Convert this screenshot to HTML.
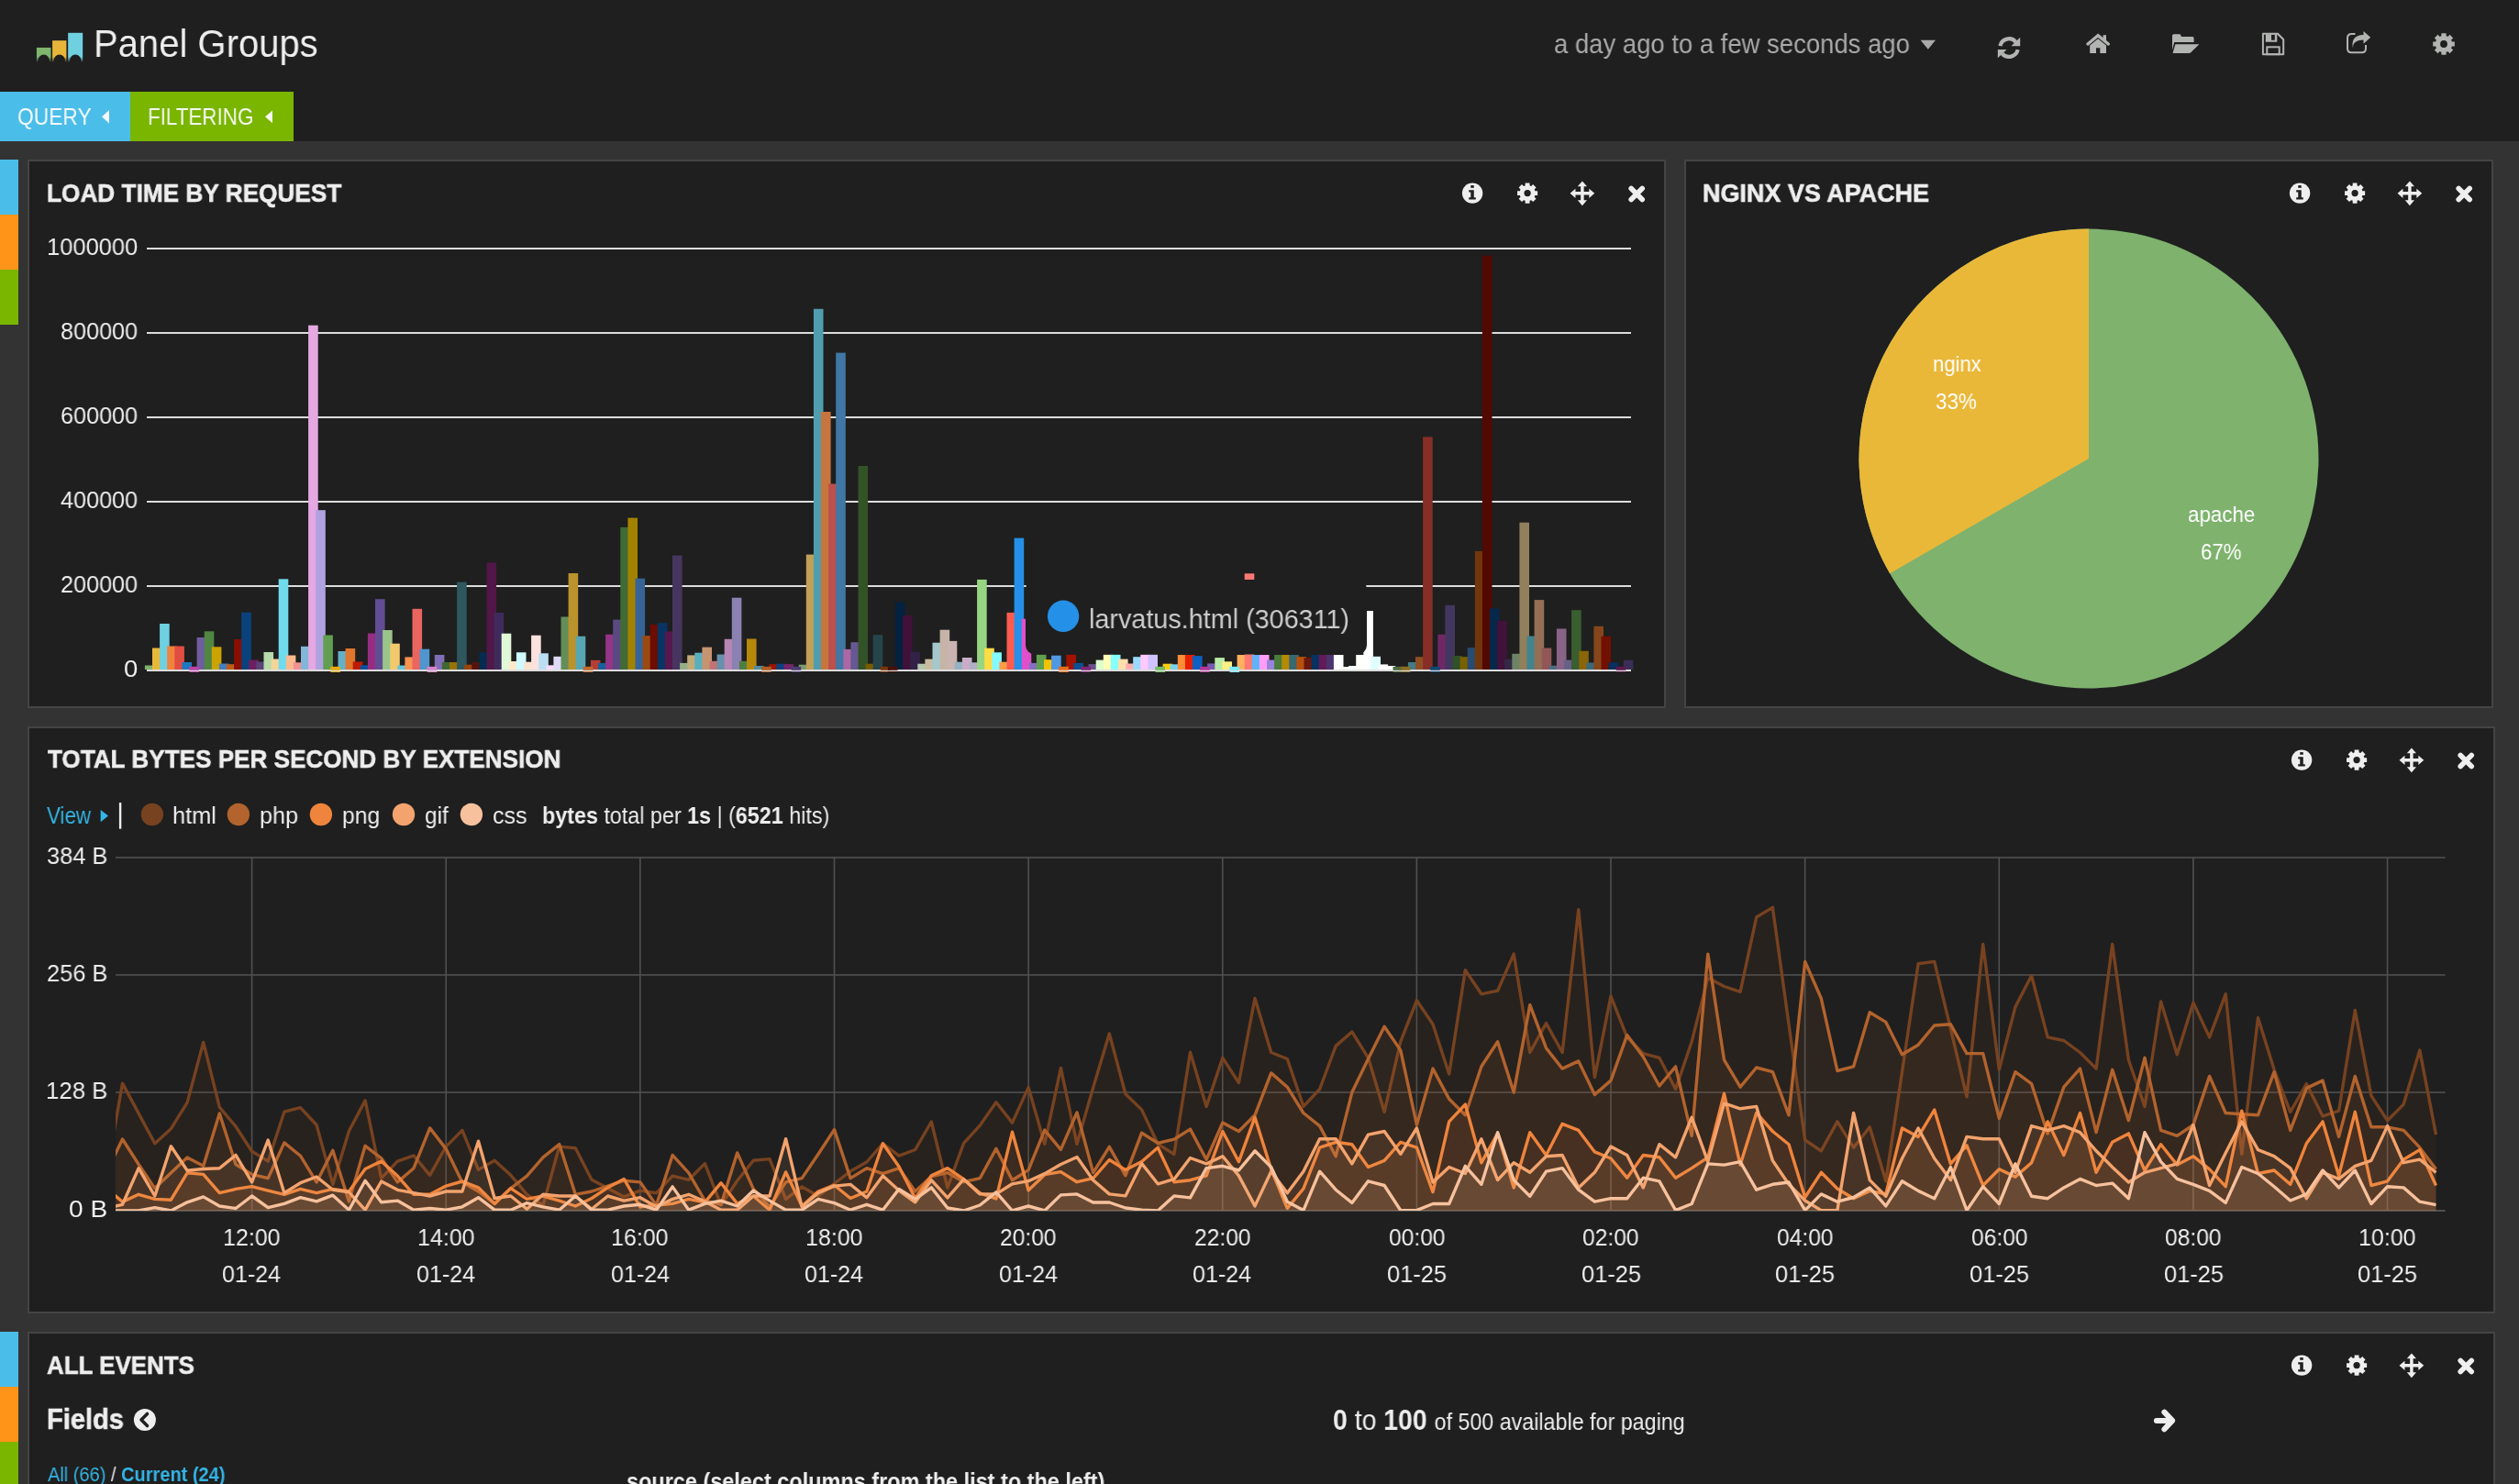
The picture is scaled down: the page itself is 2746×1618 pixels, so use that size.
<!DOCTYPE html>
<html><head><meta charset="utf-8"><title>Panel Groups</title>
<style>
html,body{margin:0;padding:0;width:2746px;height:1618px;overflow:hidden;background:#333}
body{position:relative;font-family:"Liberation Sans",sans-serif}
div{white-space:nowrap;line-height:1;transform-origin:0 0}
.t{will-change:transform}
svg{position:absolute;left:0;top:0}
</style></head><body>
<div style="position:absolute;left:0px;top:0px;width:2746px;height:154px;background:#1f1f1f;"></div>
<div style="position:absolute;left:0px;top:154px;width:2746px;height:1464px;background:#333333;"></div>
<div style="position:absolute;left:0px;top:100px;width:142px;height:54px;background:#4bbde9;"></div>
<div style="position:absolute;left:142px;top:100px;width:178px;height:54px;background:#7ab500;"></div>
<div style="position:absolute;left:0px;top:174px;width:20px;height:60px;background:#4bbde9;"></div>
<div style="position:absolute;left:0px;top:234px;width:20px;height:60px;background:#ff9419;"></div>
<div style="position:absolute;left:0px;top:294px;width:20px;height:60px;background:#7ab500;"></div>
<div style="position:absolute;left:0px;top:1452px;width:20px;height:60px;background:#4bbde9;"></div>
<div style="position:absolute;left:0px;top:1512px;width:20px;height:60px;background:#ff9419;"></div>
<div style="position:absolute;left:0px;top:1572px;width:20px;height:60px;background:#7ab500;"></div>
<div style="position:absolute;left:30px;top:174px;width:1786px;height:598px;background:#1f1f1f;border:2px solid #444444;box-sizing:border-box"></div>
<div style="position:absolute;left:1836px;top:174px;width:882px;height:598px;background:#1f1f1f;border:2px solid #444444;box-sizing:border-box"></div>
<div style="position:absolute;left:30px;top:792px;width:2690px;height:640px;background:#1f1f1f;border:2px solid #444444;box-sizing:border-box"></div>
<div style="position:absolute;left:30px;top:1452px;width:2690px;height:248px;background:#1f1f1f;border:2px solid #444444;box-sizing:border-box"></div>
<svg width="2746" height="1618" viewBox="0 0 2746 1618">
<rect x="160" y="270" width="1618" height="2" fill="#dddddd"/>
<rect x="160" y="362" width="1618" height="2" fill="#dddddd"/>
<rect x="160" y="454" width="1618" height="2" fill="#dddddd"/>
<rect x="160" y="546" width="1618" height="2" fill="#dddddd"/>
<rect x="160" y="638" width="1618" height="2" fill="#dddddd"/>
<rect x="157.90" y="725.50" width="10.60" height="4.50" fill="#7eb26d"/>
<rect x="166.00" y="706.50" width="10.60" height="23.50" fill="#eab839"/>
<rect x="174.10" y="680.00" width="10.60" height="50.00" fill="#6ed0e0"/>
<rect x="182.20" y="704.50" width="10.60" height="25.50" fill="#ef843c"/>
<rect x="190.30" y="704.50" width="10.60" height="25.50" fill="#e24d42"/>
<rect x="198.40" y="722.00" width="10.60" height="8.00" fill="#1f78c1"/>
<rect x="206.50" y="727" width="10.60" height="6" fill="#ba43a9"/>
<rect x="214.60" y="695.00" width="10.60" height="35.00" fill="#705da0"/>
<rect x="222.70" y="688.30" width="10.60" height="41.70" fill="#508642"/>
<rect x="230.80" y="705.30" width="10.60" height="24.70" fill="#cca300"/>
<rect x="238.90" y="723.50" width="10.60" height="6.50" fill="#447ebc"/>
<rect x="247.00" y="724.20" width="10.60" height="5.80" fill="#c15c17"/>
<rect x="255.10" y="697.00" width="10.60" height="33.00" fill="#890f02"/>
<rect x="263.20" y="667.70" width="10.60" height="62.30" fill="#0a437c"/>
<rect x="271.30" y="719.50" width="10.60" height="10.50" fill="#6d1f62"/>
<rect x="279.40" y="721.50" width="10.60" height="8.50" fill="#584477"/>
<rect x="287.50" y="711.00" width="10.60" height="19.00" fill="#b7dbab"/>
<rect x="295.60" y="718.50" width="10.60" height="11.50" fill="#f4d598"/>
<rect x="303.70" y="631.30" width="10.60" height="98.70" fill="#70dbed"/>
<rect x="311.80" y="714.50" width="10.60" height="15.50" fill="#f9ba8f"/>
<rect x="319.90" y="722.30" width="10.60" height="7.70" fill="#f29191"/>
<rect x="328.00" y="704.80" width="10.60" height="25.20" fill="#82b5d8"/>
<rect x="336.10" y="354.70" width="10.60" height="375.30" fill="#e5a8e2"/>
<rect x="344.20" y="556.20" width="10.60" height="173.80" fill="#aea2e0"/>
<rect x="352.30" y="692.50" width="10.60" height="37.50" fill="#629e51"/>
<rect x="360.40" y="727" width="10.60" height="6" fill="#e5ac0e"/>
<rect x="368.50" y="710.00" width="10.60" height="20.00" fill="#64b0c8"/>
<rect x="376.60" y="707.00" width="10.60" height="23.00" fill="#e0752d"/>
<rect x="384.70" y="721.50" width="10.60" height="8.50" fill="#bf1b00"/>
<rect x="392.80" y="725.30" width="10.60" height="4.70" fill="#0a50a1"/>
<rect x="400.90" y="690.50" width="10.60" height="39.50" fill="#962d82"/>
<rect x="409.00" y="653.20" width="10.60" height="76.80" fill="#614d93"/>
<rect x="417.10" y="687.00" width="10.60" height="43.00" fill="#9ac48a"/>
<rect x="425.20" y="701.70" width="10.60" height="28.30" fill="#f2c96d"/>
<rect x="433.30" y="725.50" width="10.60" height="4.50" fill="#65c5db"/>
<rect x="441.40" y="716.40" width="10.60" height="13.60" fill="#f9934e"/>
<rect x="449.50" y="663.80" width="10.60" height="66.20" fill="#ea6460"/>
<rect x="457.60" y="707.70" width="10.60" height="22.30" fill="#5195ce"/>
<rect x="465.70" y="727" width="10.60" height="6" fill="#d683ce"/>
<rect x="473.80" y="714.00" width="10.60" height="16.00" fill="#806eb7"/>
<rect x="481.90" y="722.00" width="10.60" height="8.00" fill="#3f6833"/>
<rect x="490.00" y="722.00" width="10.60" height="8.00" fill="#967302"/>
<rect x="498.10" y="634.60" width="10.60" height="95.40" fill="#2f575e"/>
<rect x="506.20" y="724.70" width="10.60" height="5.30" fill="#99440a"/>
<rect x="514.30" y="722.00" width="10.60" height="8.00" fill="#58140c"/>
<rect x="522.40" y="711.30" width="10.60" height="18.70" fill="#052b51"/>
<rect x="530.50" y="613.40" width="10.60" height="116.60" fill="#511749"/>
<rect x="538.60" y="668.00" width="10.60" height="62.00" fill="#3f2b5b"/>
<rect x="546.70" y="690.70" width="10.60" height="39.30" fill="#e0f9d7"/>
<rect x="554.80" y="721.00" width="10.60" height="9.00" fill="#fceaca"/>
<rect x="562.90" y="711.30" width="10.60" height="18.70" fill="#cffaff"/>
<rect x="571.00" y="721.70" width="10.60" height="8.30" fill="#f9e2d2"/>
<rect x="579.10" y="692.70" width="10.60" height="37.30" fill="#fce2de"/>
<rect x="587.20" y="712.30" width="10.60" height="17.70" fill="#badff4"/>
<rect x="595.30" y="725.30" width="10.60" height="4.70" fill="#f9d9f9"/>
<rect x="603.40" y="715.80" width="10.60" height="14.20" fill="#dedaf7"/>
<rect x="611.50" y="672.50" width="10.60" height="57.50" fill="#648e57"/>
<rect x="619.60" y="625.00" width="10.60" height="105.00" fill="#bb932d"/>
<rect x="627.70" y="693.70" width="10.60" height="36.30" fill="#58a6b3"/>
<rect x="635.80" y="727" width="10.60" height="6" fill="#bf6930"/>
<rect x="643.90" y="719.80" width="10.60" height="10.20" fill="#b43d34"/>
<rect x="652.00" y="722.90" width="10.60" height="7.10" fill="#18609a"/>
<rect x="660.10" y="691.70" width="10.60" height="38.30" fill="#943587"/>
<rect x="668.20" y="675.60" width="10.60" height="54.40" fill="#594a80"/>
<rect x="676.30" y="574.90" width="10.60" height="155.10" fill="#406b34"/>
<rect x="684.40" y="564.60" width="10.60" height="165.40" fill="#a38200"/>
<rect x="692.50" y="630.70" width="10.60" height="99.30" fill="#366496"/>
<rect x="700.60" y="693.10" width="10.60" height="36.90" fill="#9a4912"/>
<rect x="708.70" y="681.00" width="10.60" height="49.00" fill="#6d0c01"/>
<rect x="716.80" y="679.20" width="10.60" height="50.80" fill="#083563"/>
<rect x="724.90" y="688.50" width="10.60" height="41.50" fill="#57184e"/>
<rect x="733.00" y="605.60" width="10.60" height="124.40" fill="#46365f"/>
<rect x="741.10" y="722.90" width="10.60" height="7.10" fill="#92af88"/>
<rect x="749.20" y="714.40" width="10.60" height="15.60" fill="#c3aa79"/>
<rect x="757.30" y="711.70" width="10.60" height="18.30" fill="#59afbd"/>
<rect x="765.40" y="705.60" width="10.60" height="24.40" fill="#c79472"/>
<rect x="773.50" y="720.80" width="10.60" height="9.20" fill="#c17474"/>
<rect x="781.60" y="713.50" width="10.60" height="16.50" fill="#6890ac"/>
<rect x="789.70" y="696.80" width="10.60" height="33.20" fill="#b786b4"/>
<rect x="797.80" y="651.70" width="10.60" height="78.30" fill="#8b81b3"/>
<rect x="805.90" y="720.80" width="10.60" height="9.20" fill="#4e7e40"/>
<rect x="814.00" y="696.50" width="10.60" height="33.50" fill="#b7890b"/>
<rect x="822.10" y="726.00" width="10.60" height="4.00" fill="#508ca0"/>
<rect x="830.20" y="727" width="10.60" height="6" fill="#b35d24"/>
<rect x="838.30" y="724.10" width="10.60" height="5.90" fill="#981500"/>
<rect x="846.40" y="723.70" width="10.60" height="6.30" fill="#084080"/>
<rect x="854.50" y="724.10" width="10.60" height="5.90" fill="#782468"/>
<rect x="862.60" y="727" width="10.60" height="6" fill="#4d3d75"/>
<rect x="870.70" y="724.70" width="10.60" height="5.30" fill="#7b9c6e"/>
<rect x="878.80" y="604.60" width="10.60" height="125.40" fill="#c1a057"/>
<rect x="886.90" y="336.80" width="10.60" height="393.20" fill="#509daf"/>
<rect x="895.00" y="449.00" width="10.60" height="281.00" fill="#c7753e"/>
<rect x="903.10" y="527.50" width="10.60" height="202.50" fill="#bb504c"/>
<rect x="911.20" y="384.60" width="10.60" height="345.40" fill="#4077a4"/>
<rect x="919.30" y="707.90" width="10.60" height="22.10" fill="#ab68a4"/>
<rect x="927.40" y="700.20" width="10.60" height="29.80" fill="#665892"/>
<rect x="935.50" y="508.00" width="10.60" height="222.00" fill="#325328"/>
<rect x="943.60" y="723.70" width="10.60" height="6.30" fill="#785c01"/>
<rect x="951.70" y="692.20" width="10.60" height="37.80" fill="#25454b"/>
<rect x="959.80" y="727" width="10.60" height="6" fill="#7a3608"/>
<rect x="967.90" y="727" width="10.60" height="6" fill="#461009"/>
<rect x="976.00" y="656.50" width="10.60" height="73.50" fill="#042240"/>
<rect x="984.10" y="671.10" width="10.60" height="58.90" fill="#40123a"/>
<rect x="992.20" y="710.70" width="10.60" height="19.30" fill="#322248"/>
<rect x="1000.30" y="723.70" width="10.60" height="6.30" fill="#b3c7ac"/>
<rect x="1008.40" y="718.60" width="10.60" height="11.40" fill="#c9bba1"/>
<rect x="1016.50" y="700.70" width="10.60" height="29.30" fill="#a5c8cc"/>
<rect x="1024.60" y="686.70" width="10.60" height="43.30" fill="#c7b4a8"/>
<rect x="1032.70" y="698.90" width="10.60" height="31.10" fill="#c9b4b1"/>
<rect x="1040.80" y="721.70" width="10.60" height="8.30" fill="#94b2c3"/>
<rect x="1048.90" y="717.00" width="10.60" height="13.00" fill="#c7adc7"/>
<rect x="1057.00" y="722.30" width="10.60" height="7.70" fill="#b1aec5"/>
<rect x="1065.10" y="631.90" width="10.60" height="98.10" fill="#97d582"/>
<rect x="1073.20" y="706.70" width="10.60" height="23.30" fill="#ffdc44"/>
<rect x="1081.30" y="711.30" width="10.60" height="18.70" fill="#84f9ff"/>
<rect x="1089.40" y="721.70" width="10.60" height="8.30" fill="#ff9e48"/>
<rect x="1097.50" y="667.90" width="10.60" height="62.10" fill="#ff5c4f"/>
<rect x="1105.60" y="586.60" width="10.60" height="143.40" fill="#2590e7"/>
<rect x="1113.70" y="674.70" width="10.60" height="55.30" fill="#df50ca"/>
<rect x="1121.80" y="722.90" width="10.60" height="7.10" fill="#866fc0"/>
<rect x="1129.90" y="713.70" width="10.60" height="16.30" fill="#60a04f"/>
<rect x="1138.00" y="719.20" width="10.60" height="10.80" fill="#f4c300"/>
<rect x="1146.10" y="714.70" width="10.60" height="15.30" fill="#5197e1"/>
<rect x="1154.20" y="727" width="10.60" height="6" fill="#e76e1b"/>
<rect x="1162.30" y="713.70" width="10.60" height="16.30" fill="#a41202"/>
<rect x="1170.40" y="722.90" width="10.60" height="7.10" fill="#0c5094"/>
<rect x="1178.50" y="727" width="10.60" height="6" fill="#822575"/>
<rect x="1186.60" y="724.10" width="10.60" height="5.90" fill="#69518e"/>
<rect x="1194.70" y="719.60" width="10.60" height="10.40" fill="#dbffcd"/>
<rect x="1202.80" y="713.70" width="10.60" height="16.30" fill="#ffffb6"/>
<rect x="1210.90" y="713.70" width="10.60" height="16.30" fill="#86ffff"/>
<rect x="1219.00" y="718.60" width="10.60" height="11.40" fill="#ffdfab"/>
<rect x="1227.10" y="723.50" width="10.60" height="6.50" fill="#ffaeae"/>
<rect x="1235.20" y="716.20" width="10.60" height="13.80" fill="#9cd9ff"/>
<rect x="1243.30" y="713.70" width="10.60" height="16.30" fill="#ffc9ff"/>
<rect x="1251.40" y="713.70" width="10.60" height="16.30" fill="#d0c2ff"/>
<rect x="1259.50" y="727" width="10.60" height="6" fill="#75bd61"/>
<rect x="1267.60" y="723.70" width="10.60" height="6.30" fill="#ffce10"/>
<rect x="1275.70" y="724.30" width="10.60" height="5.70" fill="#78d3f0"/>
<rect x="1283.80" y="714.00" width="10.60" height="16.00" fill="#ff8c36"/>
<rect x="1291.90" y="714.00" width="10.60" height="16.00" fill="#e52000"/>
<rect x="1300.00" y="715.10" width="10.60" height="14.90" fill="#0c60c1"/>
<rect x="1308.10" y="727" width="10.60" height="6" fill="#b4369c"/>
<rect x="1316.20" y="723.40" width="10.60" height="6.60" fill="#745cb0"/>
<rect x="1324.30" y="717.10" width="10.60" height="12.90" fill="#b8eba5"/>
<rect x="1332.40" y="721.30" width="10.60" height="8.70" fill="#fff182"/>
<rect x="1340.50" y="727" width="10.60" height="6" fill="#79ecff"/>
<rect x="1348.60" y="714.00" width="10.60" height="16.00" fill="#ffb05d"/>
<rect x="1356.70" y="625.30" width="10.60" height="104.70" fill="#ff7873"/>
<rect x="1364.80" y="714.00" width="10.60" height="16.00" fill="#61b2f7"/>
<rect x="1372.90" y="714.00" width="10.60" height="16.00" fill="#ff9df7"/>
<rect x="1381.00" y="719.60" width="10.60" height="10.40" fill="#9984db"/>
<rect x="1389.10" y="714.00" width="10.60" height="16.00" fill="#4b7c3d"/>
<rect x="1397.20" y="714.00" width="10.60" height="16.00" fill="#b48a02"/>
<rect x="1405.30" y="714.00" width="10.60" height="16.00" fill="#386870"/>
<rect x="1413.40" y="716.10" width="10.60" height="13.90" fill="#b7510c"/>
<rect x="1421.50" y="717.10" width="10.60" height="12.90" fill="#69180e"/>
<rect x="1429.60" y="714.00" width="10.60" height="16.00" fill="#063361"/>
<rect x="1437.70" y="714.00" width="10.60" height="16.00" fill="#611b57"/>
<rect x="1445.80" y="714.00" width="10.60" height="16.00" fill="#4b336d"/>
<rect x="1453.90" y="714.00" width="10.60" height="16.00" fill="#ffffff"/>
<rect x="1462.00" y="727.00" width="10.60" height="3.00" fill="#fffff2"/>
<rect x="1470.10" y="726.00" width="10.60" height="4.00" fill="#f8ffff"/>
<rect x="1478.20" y="714.00" width="10.60" height="16.00" fill="#fffffc"/>
<rect x="1486.30" y="666.00" width="10.60" height="64.00" fill="#ffffff"/>
<rect x="1494.40" y="715.80" width="10.60" height="14.20" fill="#dfffff"/>
<rect x="1502.50" y="724.40" width="10.60" height="5.60" fill="#ffffff"/>
<rect x="1510.60" y="726.00" width="10.60" height="4.00" fill="#ffffff"/>
<rect x="1518.70" y="727" width="10.60" height="6" fill="#4b6a41"/>
<rect x="1526.80" y="727" width="10.60" height="6" fill="#8c6e22"/>
<rect x="1534.90" y="722.00" width="10.60" height="8.00" fill="#427c86"/>
<rect x="1543.00" y="716.20" width="10.60" height="13.80" fill="#8f4f24"/>
<rect x="1551.10" y="476.40" width="10.60" height="253.60" fill="#872e27"/>
<rect x="1559.20" y="727" width="10.60" height="6" fill="#124873"/>
<rect x="1567.30" y="691.70" width="10.60" height="38.30" fill="#6f2865"/>
<rect x="1575.40" y="659.80" width="10.60" height="70.20" fill="#433760"/>
<rect x="1583.50" y="715.00" width="10.60" height="15.00" fill="#305027"/>
<rect x="1591.60" y="716.20" width="10.60" height="13.80" fill="#7a6100"/>
<rect x="1599.70" y="706.20" width="10.60" height="23.80" fill="#284b70"/>
<rect x="1607.80" y="600.90" width="10.60" height="129.10" fill="#73370d"/>
<rect x="1615.90" y="278.70" width="10.60" height="451.30" fill="#520901"/>
<rect x="1624.00" y="663.40" width="10.60" height="66.60" fill="#06284a"/>
<rect x="1632.10" y="676.80" width="10.60" height="53.20" fill="#41123a"/>
<rect x="1640.20" y="718.60" width="10.60" height="11.40" fill="#342847"/>
<rect x="1648.30" y="712.80" width="10.60" height="17.20" fill="#6d8366"/>
<rect x="1656.40" y="569.70" width="10.60" height="160.30" fill="#927f5b"/>
<rect x="1664.50" y="693.50" width="10.60" height="36.50" fill="#43838e"/>
<rect x="1672.60" y="654.10" width="10.60" height="75.90" fill="#956f55"/>
<rect x="1680.70" y="706.50" width="10.60" height="23.50" fill="#915757"/>
<rect x="1688.80" y="725.70" width="10.60" height="4.30" fill="#4e6c81"/>
<rect x="1696.90" y="685.50" width="10.60" height="44.50" fill="#896487"/>
<rect x="1705.00" y="719.60" width="10.60" height="10.40" fill="#686186"/>
<rect x="1713.10" y="665.20" width="10.60" height="64.80" fill="#3a5e30"/>
<rect x="1721.20" y="709.80" width="10.60" height="20.20" fill="#896708"/>
<rect x="1729.30" y="722.50" width="10.60" height="7.50" fill="#3c6978"/>
<rect x="1737.40" y="682.80" width="10.60" height="47.20" fill="#86461b"/>
<rect x="1745.50" y="693.70" width="10.60" height="36.30" fill="#721000"/>
<rect x="1753.60" y="722.30" width="10.60" height="7.70" fill="#063060"/>
<rect x="1761.70" y="727" width="10.60" height="6" fill="#5a1b4e"/>
<rect x="1769.80" y="719.80" width="10.60" height="10.20" fill="#3a2e58"/>
<rect x="160" y="730" width="1618" height="2" fill="#dddddd"/>
<rect x="206.50" y="726.8" width="10.60" height="4.0" fill="#ba43a9"/>
<rect x="360.40" y="726.8" width="10.60" height="4.0" fill="#e5ac0e"/>
<rect x="465.70" y="726.8" width="10.60" height="4.0" fill="#d683ce"/>
<rect x="635.80" y="726.8" width="10.60" height="4.0" fill="#bf6930"/>
<rect x="830.20" y="726.8" width="10.60" height="4.0" fill="#b35d24"/>
<rect x="862.60" y="726.8" width="10.60" height="4.0" fill="#4d3d75"/>
<rect x="959.80" y="726.8" width="10.60" height="4.0" fill="#7a3608"/>
<rect x="967.90" y="726.8" width="10.60" height="4.0" fill="#461009"/>
<rect x="1154.20" y="726.8" width="10.60" height="4.0" fill="#e76e1b"/>
<rect x="1178.50" y="726.8" width="10.60" height="4.0" fill="#822575"/>
<rect x="1259.50" y="726.8" width="10.60" height="4.0" fill="#75bd61"/>
<rect x="1308.10" y="726.8" width="10.60" height="4.0" fill="#b4369c"/>
<rect x="1340.50" y="726.8" width="10.60" height="4.0" fill="#79ecff"/>
<rect x="1518.70" y="726.8" width="10.60" height="4.0" fill="#4b6a41"/>
<rect x="1526.80" y="726.8" width="10.60" height="4.0" fill="#8c6e22"/>
<rect x="1559.20" y="726.8" width="10.60" height="4.0" fill="#124873"/>
<rect x="1761.70" y="726.8" width="10.60" height="4.0" fill="#5a1b4e"/>
<rect x="1118" y="632" width="372" height="81.5" rx="10" fill="#1f1f1f"/>
<circle cx="1159.1" cy="671.8" r="17.2" fill="#2590e7"/>
<circle cx="2277" cy="500" r="250.5" fill="#7eb26d"/>
<path d="M2277,500 L2277,249.5 A250.5,250.5 0 0,0 2060.06,625.25 Z" fill="#eab839"/>
<rect x="126" y="934.2" width="2539.5" height="1.6" fill="#505050"/>
<rect x="126" y="1062.2" width="2539.5" height="1.6" fill="#505050"/>
<rect x="126" y="1190.2" width="2539.5" height="1.6" fill="#505050"/>
<rect x="273.80" y="935" width="1.6" height="385" fill="#505050"/>
<rect x="485.43" y="935" width="1.6" height="385" fill="#505050"/>
<rect x="697.06" y="935" width="1.6" height="385" fill="#505050"/>
<rect x="908.69" y="935" width="1.6" height="385" fill="#505050"/>
<rect x="1120.32" y="935" width="1.6" height="385" fill="#505050"/>
<rect x="1331.95" y="935" width="1.6" height="385" fill="#505050"/>
<rect x="1543.58" y="935" width="1.6" height="385" fill="#505050"/>
<rect x="1755.21" y="935" width="1.6" height="385" fill="#505050"/>
<rect x="1966.84" y="935" width="1.6" height="385" fill="#505050"/>
<rect x="2178.47" y="935" width="1.6" height="385" fill="#505050"/>
<rect x="2390.10" y="935" width="1.6" height="385" fill="#505050"/>
<rect x="2601.73" y="935" width="1.6" height="385" fill="#505050"/>
<rect x="126" y="1319" width="2539.5" height="2" fill="#505050"/>
<defs><clipPath id="lc"><rect x="126" y="900" width="2540" height="420"/></clipPath></defs><g clip-path="url(#lc)">
<path d="M115.9,1320.0 L115.9,1281.6 133.5,1181.1 151.1,1213.9 168.8,1246.8 186.4,1230.7 204.1,1202.1 221.7,1136.4 239.3,1207.2 257.0,1228.2 274.6,1255.2 292.2,1266.1 309.9,1212.2 327.5,1207.7 345.1,1226.5 362.8,1291.4 380.4,1233.3 398.1,1199.9 415.7,1284.6 433.3,1266.1 451.0,1259.9 468.6,1281.3 486.2,1250.1 503.9,1232.4 521.5,1275.4 539.1,1265.3 556.8,1281.3 574.4,1302.3 592.0,1314.1 609.7,1250.1 627.3,1251.8 645.0,1286.3 662.6,1295.6 680.2,1304.9 697.9,1298.1 715.5,1300.7 733.1,1282.1 750.8,1286.3 768.4,1268.6 786.0,1314.1 803.7,1287.2 821.3,1265.3 839.0,1263.6 856.6,1307.4 874.2,1293.9 891.9,1304.0 909.5,1290.5 927.1,1277.1 944.8,1267.0 962.4,1246.8 980.0,1260.2 997.7,1253.5 1015.3,1223.0 1032.9,1294.8 1050.6,1246.3 1068.2,1227.1 1085.9,1201.8 1103.5,1224.1 1121.1,1185.6 1138.8,1247.3 1156.4,1164.4 1174.0,1247.3 1191.7,1185.6 1209.3,1127.0 1226.9,1192.7 1244.6,1209.9 1262.2,1247.3 1279.9,1258.4 1297.5,1147.2 1315.1,1206.4 1332.8,1153.3 1350.4,1180.5 1368.0,1088.5 1385.7,1147.5 1403.3,1154.5 1420.9,1206.4 1438.6,1187.5 1456.2,1140.4 1473.8,1125.0 1491.5,1153.3 1509.1,1212.3 1526.8,1135.7 1544.4,1090.8 1562.0,1116.8 1579.7,1171.0 1597.3,1057.8 1614.9,1083.8 1632.6,1080.2 1650.2,1040.1 1667.8,1147.5 1685.5,1115.6 1703.1,1147.5 1720.8,991.8 1738.4,1174.6 1756.0,1086.1 1773.7,1130.9 1791.3,1148.6 1808.9,1153.3 1826.6,1187.5 1844.2,1135.7 1861.8,1066.1 1879.5,1075.5 1897.1,1081.4 1914.7,1000.0 1932.4,989.4 1950.0,1116.8 1967.7,1243.0 1985.3,1254.8 2002.9,1222.9 2020.6,1251.2 2038.2,1228.8 2055.8,1287.8 2073.5,1168.7 2091.1,1050.8 2108.7,1048.4 2126.4,1121.5 2144.0,1195.8 2161.7,1029.5 2179.3,1166.3 2196.9,1097.9 2214.6,1063.7 2232.2,1130.9 2249.8,1134.5 2267.5,1147.5 2285.1,1165.1 2302.7,1029.5 2320.4,1155.7 2338.0,1206.4 2355.6,1092.0 2373.3,1149.8 2390.9,1093.2 2408.6,1130.9 2426.2,1083.8 2443.8,1258.3 2461.5,1109.7 2479.1,1166.3 2496.7,1212.3 2514.4,1181.7 2532.0,1217.0 2549.6,1211.1 2567.3,1101.5 2584.9,1194.6 2602.6,1221.7 2620.2,1204.1 2637.8,1145.1 2655.5,1237.1 L2655.5,1320.0 Z" fill="#774220" fill-opacity="0.1"/>
<polyline points="115.9,1281.6 133.5,1181.1 151.1,1213.9 168.8,1246.8 186.4,1230.7 204.1,1202.1 221.7,1136.4 239.3,1207.2 257.0,1228.2 274.6,1255.2 292.2,1266.1 309.9,1212.2 327.5,1207.7 345.1,1226.5 362.8,1291.4 380.4,1233.3 398.1,1199.9 415.7,1284.6 433.3,1266.1 451.0,1259.9 468.6,1281.3 486.2,1250.1 503.9,1232.4 521.5,1275.4 539.1,1265.3 556.8,1281.3 574.4,1302.3 592.0,1314.1 609.7,1250.1 627.3,1251.8 645.0,1286.3 662.6,1295.6 680.2,1304.9 697.9,1298.1 715.5,1300.7 733.1,1282.1 750.8,1286.3 768.4,1268.6 786.0,1314.1 803.7,1287.2 821.3,1265.3 839.0,1263.6 856.6,1307.4 874.2,1293.9 891.9,1304.0 909.5,1290.5 927.1,1277.1 944.8,1267.0 962.4,1246.8 980.0,1260.2 997.7,1253.5 1015.3,1223.0 1032.9,1294.8 1050.6,1246.3 1068.2,1227.1 1085.9,1201.8 1103.5,1224.1 1121.1,1185.6 1138.8,1247.3 1156.4,1164.4 1174.0,1247.3 1191.7,1185.6 1209.3,1127.0 1226.9,1192.7 1244.6,1209.9 1262.2,1247.3 1279.9,1258.4 1297.5,1147.2 1315.1,1206.4 1332.8,1153.3 1350.4,1180.5 1368.0,1088.5 1385.7,1147.5 1403.3,1154.5 1420.9,1206.4 1438.6,1187.5 1456.2,1140.4 1473.8,1125.0 1491.5,1153.3 1509.1,1212.3 1526.8,1135.7 1544.4,1090.8 1562.0,1116.8 1579.7,1171.0 1597.3,1057.8 1614.9,1083.8 1632.6,1080.2 1650.2,1040.1 1667.8,1147.5 1685.5,1115.6 1703.1,1147.5 1720.8,991.8 1738.4,1174.6 1756.0,1086.1 1773.7,1130.9 1791.3,1148.6 1808.9,1153.3 1826.6,1187.5 1844.2,1135.7 1861.8,1066.1 1879.5,1075.5 1897.1,1081.4 1914.7,1000.0 1932.4,989.4 1950.0,1116.8 1967.7,1243.0 1985.3,1254.8 2002.9,1222.9 2020.6,1251.2 2038.2,1228.8 2055.8,1287.8 2073.5,1168.7 2091.1,1050.8 2108.7,1048.4 2126.4,1121.5 2144.0,1195.8 2161.7,1029.5 2179.3,1166.3 2196.9,1097.9 2214.6,1063.7 2232.2,1130.9 2249.8,1134.5 2267.5,1147.5 2285.1,1165.1 2302.7,1029.5 2320.4,1155.7 2338.0,1206.4 2355.6,1092.0 2373.3,1149.8 2390.9,1093.2 2408.6,1130.9 2426.2,1083.8 2443.8,1258.3 2461.5,1109.7 2479.1,1166.3 2496.7,1212.3 2514.4,1181.7 2532.0,1217.0 2549.6,1211.1 2567.3,1101.5 2584.9,1194.6 2602.6,1221.7 2620.2,1204.1 2637.8,1145.1 2655.5,1237.1" fill="none" stroke="#774220" stroke-width="3.4" stroke-linejoin="round"/>
<path d="M115.9,1320.0 L115.9,1278.8 133.5,1242.0 151.1,1269.5 168.8,1295.6 186.4,1278.8 204.1,1261.9 221.7,1271.2 239.3,1213.9 257.0,1269.5 274.6,1280.4 292.2,1284.6 309.9,1245.9 327.5,1260.2 345.1,1288.9 362.8,1254.3 380.4,1309.9 398.1,1249.3 415.7,1262.8 433.3,1288.9 451.0,1273.7 468.6,1229.9 486.2,1252.6 503.9,1288.9 521.5,1299.0 539.1,1312.4 556.8,1295.6 574.4,1282.1 592.0,1261.9 609.7,1247.6 627.3,1302.3 645.0,1299.0 662.6,1293.1 680.2,1287.2 697.9,1288.9 715.5,1314.1 733.1,1259.4 750.8,1278.8 768.4,1309.1 786.0,1313.3 803.7,1256.9 821.3,1296.4 839.0,1315.8 856.6,1288.9 874.2,1284.6 891.9,1258.5 909.5,1231.6 927.1,1284.6 944.8,1273.7 962.4,1279.6 980.0,1273.7 997.7,1299.0 1015.3,1282.7 1032.9,1278.6 1050.6,1288.7 1068.2,1284.7 1085.9,1252.4 1103.5,1286.7 1121.1,1275.6 1138.8,1232.1 1156.4,1253.4 1174.0,1212.9 1191.7,1278.6 1209.3,1250.3 1226.9,1281.7 1244.6,1235.2 1262.2,1246.3 1279.9,1242.2 1297.5,1231.1 1315.1,1264.2 1332.8,1224.1 1350.4,1233.5 1368.0,1215.8 1385.7,1169.9 1403.3,1185.2 1420.9,1213.5 1438.6,1227.6 1456.2,1260.7 1473.8,1191.1 1491.5,1154.5 1509.1,1119.2 1526.8,1145.1 1544.4,1226.5 1562.0,1165.1 1579.7,1198.2 1597.3,1215.8 1614.9,1162.8 1632.6,1135.7 1650.2,1191.1 1667.8,1095.6 1685.5,1142.7 1703.1,1165.1 1720.8,1156.9 1738.4,1193.4 1756.0,1178.1 1773.7,1128.6 1791.3,1152.2 1808.9,1184.0 1826.6,1162.8 1844.2,1238.3 1861.8,1040.1 1879.5,1155.7 1897.1,1185.2 1914.7,1164.0 1932.4,1168.7 1950.0,1215.8 1967.7,1048.4 1985.3,1088.5 2002.9,1167.5 2020.6,1162.8 2038.2,1103.8 2055.8,1114.4 2073.5,1149.8 2091.1,1139.2 2108.7,1118.0 2126.4,1116.8 2144.0,1148.6 2161.7,1148.6 2179.3,1219.4 2196.9,1168.7 2214.6,1181.7 2232.2,1235.9 2249.8,1185.2 2267.5,1165.1 2285.1,1234.7 2302.7,1166.3 2320.4,1221.7 2338.0,1153.3 2355.6,1232.4 2373.3,1238.3 2390.9,1226.5 2408.6,1173.4 2426.2,1213.5 2443.8,1214.7 2461.5,1215.8 2479.1,1168.7 2496.7,1232.4 2514.4,1186.4 2532.0,1178.1 2549.6,1239.4 2567.3,1173.4 2584.9,1228.8 2602.6,1228.8 2620.2,1232.4 2637.8,1251.2 2655.5,1274.8 L2655.5,1320.0 Z" fill="#b3632d" fill-opacity="0.1"/>
<polyline points="115.9,1278.8 133.5,1242.0 151.1,1269.5 168.8,1295.6 186.4,1278.8 204.1,1261.9 221.7,1271.2 239.3,1213.9 257.0,1269.5 274.6,1280.4 292.2,1284.6 309.9,1245.9 327.5,1260.2 345.1,1288.9 362.8,1254.3 380.4,1309.9 398.1,1249.3 415.7,1262.8 433.3,1288.9 451.0,1273.7 468.6,1229.9 486.2,1252.6 503.9,1288.9 521.5,1299.0 539.1,1312.4 556.8,1295.6 574.4,1282.1 592.0,1261.9 609.7,1247.6 627.3,1302.3 645.0,1299.0 662.6,1293.1 680.2,1287.2 697.9,1288.9 715.5,1314.1 733.1,1259.4 750.8,1278.8 768.4,1309.1 786.0,1313.3 803.7,1256.9 821.3,1296.4 839.0,1315.8 856.6,1288.9 874.2,1284.6 891.9,1258.5 909.5,1231.6 927.1,1284.6 944.8,1273.7 962.4,1279.6 980.0,1273.7 997.7,1299.0 1015.3,1282.7 1032.9,1278.6 1050.6,1288.7 1068.2,1284.7 1085.9,1252.4 1103.5,1286.7 1121.1,1275.6 1138.8,1232.1 1156.4,1253.4 1174.0,1212.9 1191.7,1278.6 1209.3,1250.3 1226.9,1281.7 1244.6,1235.2 1262.2,1246.3 1279.9,1242.2 1297.5,1231.1 1315.1,1264.2 1332.8,1224.1 1350.4,1233.5 1368.0,1215.8 1385.7,1169.9 1403.3,1185.2 1420.9,1213.5 1438.6,1227.6 1456.2,1260.7 1473.8,1191.1 1491.5,1154.5 1509.1,1119.2 1526.8,1145.1 1544.4,1226.5 1562.0,1165.1 1579.7,1198.2 1597.3,1215.8 1614.9,1162.8 1632.6,1135.7 1650.2,1191.1 1667.8,1095.6 1685.5,1142.7 1703.1,1165.1 1720.8,1156.9 1738.4,1193.4 1756.0,1178.1 1773.7,1128.6 1791.3,1152.2 1808.9,1184.0 1826.6,1162.8 1844.2,1238.3 1861.8,1040.1 1879.5,1155.7 1897.1,1185.2 1914.7,1164.0 1932.4,1168.7 1950.0,1215.8 1967.7,1048.4 1985.3,1088.5 2002.9,1167.5 2020.6,1162.8 2038.2,1103.8 2055.8,1114.4 2073.5,1149.8 2091.1,1139.2 2108.7,1118.0 2126.4,1116.8 2144.0,1148.6 2161.7,1148.6 2179.3,1219.4 2196.9,1168.7 2214.6,1181.7 2232.2,1235.9 2249.8,1185.2 2267.5,1165.1 2285.1,1234.7 2302.7,1166.3 2320.4,1221.7 2338.0,1153.3 2355.6,1232.4 2373.3,1238.3 2390.9,1226.5 2408.6,1173.4 2426.2,1213.5 2443.8,1214.7 2461.5,1215.8 2479.1,1168.7 2496.7,1232.4 2514.4,1186.4 2532.0,1178.1 2549.6,1239.4 2567.3,1173.4 2584.9,1228.8 2602.6,1228.8 2620.2,1232.4 2637.8,1251.2 2655.5,1274.8" fill="none" stroke="#b3632d" stroke-width="3.4" stroke-linejoin="round"/>
<path d="M115.9,1320.0 L115.9,1295.4 133.5,1310.4 151.1,1302.3 168.8,1307.4 186.4,1308.2 204.1,1278.8 221.7,1280.4 239.3,1300.7 257.0,1296.4 274.6,1293.6 292.2,1298.1 309.9,1302.3 327.5,1296.4 345.1,1300.7 362.8,1296.4 380.4,1299.0 398.1,1274.5 415.7,1266.1 433.3,1282.1 451.0,1302.3 468.6,1302.3 486.2,1293.1 503.9,1288.0 521.5,1294.8 539.1,1312.4 556.8,1295.6 574.4,1307.4 592.0,1304.0 609.7,1309.1 627.3,1315.0 645.0,1306.5 662.6,1294.8 680.2,1285.5 697.9,1315.8 715.5,1314.1 733.1,1312.4 750.8,1307.4 768.4,1310.8 786.0,1289.7 803.7,1312.4 821.3,1304.0 839.0,1319.2 856.6,1277.9 874.2,1315.0 891.9,1299.0 909.5,1292.2 927.1,1306.5 944.8,1299.0 962.4,1246.8 980.0,1272.0 997.7,1306.5 1015.3,1281.7 1032.9,1273.6 1050.6,1285.7 1068.2,1300.9 1085.9,1306.9 1103.5,1234.2 1121.1,1297.8 1138.8,1280.7 1156.4,1277.6 1174.0,1288.7 1191.7,1284.7 1209.3,1264.5 1226.9,1275.6 1244.6,1266.5 1262.2,1251.3 1279.9,1288.7 1297.5,1286.7 1315.1,1281.9 1332.8,1233.5 1350.4,1266.6 1368.0,1218.2 1385.7,1274.8 1403.3,1317.3 1420.9,1296.0 1438.6,1251.2 1456.2,1245.3 1473.8,1247.7 1491.5,1272.5 1509.1,1265.4 1526.8,1245.3 1544.4,1251.2 1562.0,1299.6 1579.7,1222.9 1597.3,1204.1 1614.9,1267.7 1632.6,1235.9 1650.2,1294.9 1667.8,1234.7 1685.5,1259.5 1703.1,1225.3 1720.8,1232.4 1738.4,1255.9 1756.0,1263.0 1773.7,1284.2 1791.3,1259.5 1808.9,1261.8 1826.6,1284.2 1844.2,1273.6 1861.8,1261.8 1879.5,1192.3 1897.1,1270.1 1914.7,1213.5 1932.4,1233.5 1950.0,1247.7 1967.7,1305.5 1985.3,1278.3 2002.9,1296.0 2020.6,1306.7 2038.2,1298.4 2055.8,1301.9 2073.5,1230.0 2091.1,1239.4 2108.7,1210.0 2126.4,1268.9 2144.0,1248.9 2161.7,1292.5 2179.3,1274.8 2196.9,1283.1 2214.6,1267.7 2232.2,1222.9 2249.8,1259.5 2267.5,1213.5 2285.1,1278.3 2302.7,1245.3 2320.4,1235.9 2338.0,1276.0 2355.6,1247.7 2373.3,1270.1 2390.9,1260.7 2408.6,1274.8 2426.2,1293.7 2443.8,1211.1 2461.5,1279.5 2479.1,1276.0 2496.7,1291.3 2514.4,1246.5 2532.0,1222.9 2549.6,1281.9 2567.3,1212.3 2584.9,1292.5 2602.6,1287.8 2620.2,1264.2 2637.8,1253.6 2655.5,1292.5 L2655.5,1320.0 Z" fill="#ef843c" fill-opacity="0.1"/>
<polyline points="115.9,1295.4 133.5,1310.4 151.1,1302.3 168.8,1307.4 186.4,1308.2 204.1,1278.8 221.7,1280.4 239.3,1300.7 257.0,1296.4 274.6,1293.6 292.2,1298.1 309.9,1302.3 327.5,1296.4 345.1,1300.7 362.8,1296.4 380.4,1299.0 398.1,1274.5 415.7,1266.1 433.3,1282.1 451.0,1302.3 468.6,1302.3 486.2,1293.1 503.9,1288.0 521.5,1294.8 539.1,1312.4 556.8,1295.6 574.4,1307.4 592.0,1304.0 609.7,1309.1 627.3,1315.0 645.0,1306.5 662.6,1294.8 680.2,1285.5 697.9,1315.8 715.5,1314.1 733.1,1312.4 750.8,1307.4 768.4,1310.8 786.0,1289.7 803.7,1312.4 821.3,1304.0 839.0,1319.2 856.6,1277.9 874.2,1315.0 891.9,1299.0 909.5,1292.2 927.1,1306.5 944.8,1299.0 962.4,1246.8 980.0,1272.0 997.7,1306.5 1015.3,1281.7 1032.9,1273.6 1050.6,1285.7 1068.2,1300.9 1085.9,1306.9 1103.5,1234.2 1121.1,1297.8 1138.8,1280.7 1156.4,1277.6 1174.0,1288.7 1191.7,1284.7 1209.3,1264.5 1226.9,1275.6 1244.6,1266.5 1262.2,1251.3 1279.9,1288.7 1297.5,1286.7 1315.1,1281.9 1332.8,1233.5 1350.4,1266.6 1368.0,1218.2 1385.7,1274.8 1403.3,1317.3 1420.9,1296.0 1438.6,1251.2 1456.2,1245.3 1473.8,1247.7 1491.5,1272.5 1509.1,1265.4 1526.8,1245.3 1544.4,1251.2 1562.0,1299.6 1579.7,1222.9 1597.3,1204.1 1614.9,1267.7 1632.6,1235.9 1650.2,1294.9 1667.8,1234.7 1685.5,1259.5 1703.1,1225.3 1720.8,1232.4 1738.4,1255.9 1756.0,1263.0 1773.7,1284.2 1791.3,1259.5 1808.9,1261.8 1826.6,1284.2 1844.2,1273.6 1861.8,1261.8 1879.5,1192.3 1897.1,1270.1 1914.7,1213.5 1932.4,1233.5 1950.0,1247.7 1967.7,1305.5 1985.3,1278.3 2002.9,1296.0 2020.6,1306.7 2038.2,1298.4 2055.8,1301.9 2073.5,1230.0 2091.1,1239.4 2108.7,1210.0 2126.4,1268.9 2144.0,1248.9 2161.7,1292.5 2179.3,1274.8 2196.9,1283.1 2214.6,1267.7 2232.2,1222.9 2249.8,1259.5 2267.5,1213.5 2285.1,1278.3 2302.7,1245.3 2320.4,1235.9 2338.0,1276.0 2355.6,1247.7 2373.3,1270.1 2390.9,1260.7 2408.6,1274.8 2426.2,1293.7 2443.8,1211.1 2461.5,1279.5 2479.1,1276.0 2496.7,1291.3 2514.4,1246.5 2532.0,1222.9 2549.6,1281.9 2567.3,1212.3 2584.9,1292.5 2602.6,1287.8 2620.2,1264.2 2637.8,1253.6 2655.5,1292.5" fill="none" stroke="#ef843c" stroke-width="3.4" stroke-linejoin="round"/>
<path d="M115.9,1320.0 L115.9,1317.3 133.5,1313.3 151.1,1273.7 168.8,1304.0 186.4,1249.8 204.1,1276.2 221.7,1274.5 239.3,1273.7 257.0,1259.4 274.6,1288.9 292.2,1243.0 309.9,1300.7 327.5,1289.7 345.1,1283.0 362.8,1297.3 380.4,1299.8 398.1,1319.2 415.7,1288.0 433.3,1297.3 451.0,1300.7 468.6,1304.0 486.2,1299.0 503.9,1299.0 521.5,1244.2 539.1,1306.5 556.8,1304.0 574.4,1318.3 592.0,1302.3 609.7,1304.0 627.3,1304.0 645.0,1318.3 662.6,1304.0 680.2,1309.1 697.9,1305.7 715.5,1315.8 733.1,1307.4 750.8,1302.3 768.4,1309.9 786.0,1319.2 803.7,1319.2 821.3,1304.0 839.0,1304.0 856.6,1241.7 874.2,1315.8 891.9,1300.7 909.5,1293.1 927.1,1291.4 944.8,1305.7 962.4,1282.1 980.0,1298.1 997.7,1310.8 1015.3,1286.7 1032.9,1305.9 1050.6,1285.7 1068.2,1301.9 1085.9,1301.9 1103.5,1290.8 1121.1,1287.7 1138.8,1279.6 1156.4,1269.5 1174.0,1261.5 1191.7,1286.7 1209.3,1301.9 1226.9,1303.9 1244.6,1268.5 1262.2,1290.8 1279.9,1285.7 1297.5,1262.5 1315.1,1268.9 1332.8,1260.7 1350.4,1281.9 1368.0,1314.9 1385.7,1277.2 1403.3,1300.8 1420.9,1277.2 1438.6,1241.8 1456.2,1241.8 1473.8,1268.9 1491.5,1237.1 1509.1,1233.5 1526.8,1258.3 1544.4,1230.0 1562.0,1289.0 1579.7,1272.5 1597.3,1279.5 1614.9,1241.8 1632.6,1286.6 1650.2,1267.7 1667.8,1278.3 1685.5,1260.7 1703.1,1259.5 1720.8,1294.9 1738.4,1278.3 1756.0,1250.0 1773.7,1259.5 1791.3,1294.9 1808.9,1247.7 1826.6,1261.8 1844.2,1218.2 1861.8,1266.6 1879.5,1202.9 1897.1,1208.8 1914.7,1206.4 1932.4,1265.4 1950.0,1291.3 1967.7,1309.0 1985.3,1319.6 2002.9,1319.6 2020.6,1213.5 2038.2,1286.6 2055.8,1304.3 2073.5,1263.0 2091.1,1230.0 2108.7,1263.0 2126.4,1286.6 2144.0,1239.4 2161.7,1241.8 2179.3,1241.8 2196.9,1278.3 2214.6,1227.6 2232.2,1232.4 2249.8,1227.6 2267.5,1234.7 2285.1,1254.8 2302.7,1272.5 2320.4,1289.0 2338.0,1278.3 2355.6,1273.6 2373.3,1268.9 2390.9,1226.5 2408.6,1292.5 2426.2,1257.1 2443.8,1222.9 2461.5,1253.6 2479.1,1260.7 2496.7,1273.6 2514.4,1306.7 2532.0,1278.3 2549.6,1285.4 2567.3,1271.3 2584.9,1265.4 2602.6,1227.6 2620.2,1267.7 2637.8,1264.2 2655.5,1278.3 L2655.5,1320.0 Z" fill="#f3a36d" fill-opacity="0.1"/>
<polyline points="115.9,1317.3 133.5,1313.3 151.1,1273.7 168.8,1304.0 186.4,1249.8 204.1,1276.2 221.7,1274.5 239.3,1273.7 257.0,1259.4 274.6,1288.9 292.2,1243.0 309.9,1300.7 327.5,1289.7 345.1,1283.0 362.8,1297.3 380.4,1299.8 398.1,1319.2 415.7,1288.0 433.3,1297.3 451.0,1300.7 468.6,1304.0 486.2,1299.0 503.9,1299.0 521.5,1244.2 539.1,1306.5 556.8,1304.0 574.4,1318.3 592.0,1302.3 609.7,1304.0 627.3,1304.0 645.0,1318.3 662.6,1304.0 680.2,1309.1 697.9,1305.7 715.5,1315.8 733.1,1307.4 750.8,1302.3 768.4,1309.9 786.0,1319.2 803.7,1319.2 821.3,1304.0 839.0,1304.0 856.6,1241.7 874.2,1315.8 891.9,1300.7 909.5,1293.1 927.1,1291.4 944.8,1305.7 962.4,1282.1 980.0,1298.1 997.7,1310.8 1015.3,1286.7 1032.9,1305.9 1050.6,1285.7 1068.2,1301.9 1085.9,1301.9 1103.5,1290.8 1121.1,1287.7 1138.8,1279.6 1156.4,1269.5 1174.0,1261.5 1191.7,1286.7 1209.3,1301.9 1226.9,1303.9 1244.6,1268.5 1262.2,1290.8 1279.9,1285.7 1297.5,1262.5 1315.1,1268.9 1332.8,1260.7 1350.4,1281.9 1368.0,1314.9 1385.7,1277.2 1403.3,1300.8 1420.9,1277.2 1438.6,1241.8 1456.2,1241.8 1473.8,1268.9 1491.5,1237.1 1509.1,1233.5 1526.8,1258.3 1544.4,1230.0 1562.0,1289.0 1579.7,1272.5 1597.3,1279.5 1614.9,1241.8 1632.6,1286.6 1650.2,1267.7 1667.8,1278.3 1685.5,1260.7 1703.1,1259.5 1720.8,1294.9 1738.4,1278.3 1756.0,1250.0 1773.7,1259.5 1791.3,1294.9 1808.9,1247.7 1826.6,1261.8 1844.2,1218.2 1861.8,1266.6 1879.5,1202.9 1897.1,1208.8 1914.7,1206.4 1932.4,1265.4 1950.0,1291.3 1967.7,1309.0 1985.3,1319.6 2002.9,1319.6 2020.6,1213.5 2038.2,1286.6 2055.8,1304.3 2073.5,1263.0 2091.1,1230.0 2108.7,1263.0 2126.4,1286.6 2144.0,1239.4 2161.7,1241.8 2179.3,1241.8 2196.9,1278.3 2214.6,1227.6 2232.2,1232.4 2249.8,1227.6 2267.5,1234.7 2285.1,1254.8 2302.7,1272.5 2320.4,1289.0 2338.0,1278.3 2355.6,1273.6 2373.3,1268.9 2390.9,1226.5 2408.6,1292.5 2426.2,1257.1 2443.8,1222.9 2461.5,1253.6 2479.1,1260.7 2496.7,1273.6 2514.4,1306.7 2532.0,1278.3 2549.6,1285.4 2567.3,1271.3 2584.9,1265.4 2602.6,1227.6 2620.2,1267.7 2637.8,1264.2 2655.5,1278.3" fill="none" stroke="#f3a36d" stroke-width="3.4" stroke-linejoin="round"/>
<path d="M115.9,1320.0 L115.9,1320.0 133.5,1320.0 151.1,1320.0 168.8,1316.7 186.4,1320.0 204.1,1310.8 221.7,1304.9 239.3,1315.0 257.0,1317.5 274.6,1304.0 292.2,1316.7 309.9,1312.4 327.5,1305.7 345.1,1309.9 362.8,1303.2 380.4,1319.2 398.1,1287.2 415.7,1310.8 433.3,1309.1 451.0,1319.2 468.6,1317.5 486.2,1319.2 503.9,1315.8 521.5,1305.7 539.1,1319.2 556.8,1319.2 574.4,1311.6 592.0,1315.8 609.7,1319.2 627.3,1304.0 645.0,1319.2 662.6,1319.2 680.2,1315.0 697.9,1313.3 715.5,1319.2 733.1,1293.9 750.8,1319.2 768.4,1312.4 786.0,1309.1 803.7,1315.0 821.3,1298.1 839.0,1309.1 856.6,1319.2 874.2,1319.2 891.9,1307.4 909.5,1311.6 927.1,1319.2 944.8,1313.3 962.4,1319.2 980.0,1296.4 997.7,1307.4 1015.3,1294.8 1032.9,1317.0 1050.6,1320.0 1068.2,1314.0 1085.9,1299.9 1103.5,1320.0 1121.1,1315.0 1138.8,1320.0 1156.4,1302.9 1174.0,1301.9 1191.7,1311.0 1209.3,1311.0 1226.9,1317.0 1244.6,1319.1 1262.2,1320.0 1279.9,1303.9 1297.5,1305.9 1315.1,1273.6 1332.8,1271.3 1350.4,1276.0 1368.0,1254.8 1385.7,1272.5 1403.3,1310.2 1420.9,1319.6 1438.6,1277.2 1456.2,1297.2 1473.8,1311.4 1491.5,1287.8 1509.1,1292.5 1526.8,1319.6 1544.4,1319.6 1562.0,1312.5 1579.7,1312.5 1597.3,1271.3 1614.9,1291.3 1632.6,1234.7 1650.2,1286.6 1667.8,1304.3 1685.5,1277.2 1703.1,1273.6 1720.8,1297.2 1738.4,1310.2 1756.0,1306.7 1773.7,1306.7 1791.3,1284.2 1808.9,1287.8 1826.6,1319.6 1844.2,1312.5 1861.8,1268.9 1879.5,1270.1 1897.1,1266.6 1914.7,1297.2 1932.4,1291.3 1950.0,1289.0 1967.7,1319.6 1985.3,1301.9 2002.9,1310.2 2020.6,1305.5 2038.2,1294.9 2055.8,1314.9 2073.5,1287.8 2091.1,1298.4 2108.7,1306.7 2126.4,1272.5 2144.0,1319.6 2161.7,1293.7 2179.3,1312.5 2196.9,1268.9 2214.6,1304.3 2232.2,1306.7 2249.8,1294.9 2267.5,1285.4 2285.1,1292.5 2302.7,1290.1 2320.4,1306.7 2338.0,1234.7 2355.6,1266.6 2373.3,1285.4 2390.9,1291.3 2408.6,1298.4 2426.2,1311.4 2443.8,1272.5 2461.5,1279.5 2479.1,1293.7 2496.7,1309.0 2514.4,1301.9 2532.0,1276.0 2549.6,1294.9 2567.3,1276.0 2584.9,1312.5 2602.6,1293.7 2620.2,1294.9 2637.8,1310.2 2655.5,1313.7 L2655.5,1320.0 Z" fill="#f7c19d" fill-opacity="0.1"/>
<polyline points="115.9,1320.0 133.5,1320.0 151.1,1320.0 168.8,1316.7 186.4,1320.0 204.1,1310.8 221.7,1304.9 239.3,1315.0 257.0,1317.5 274.6,1304.0 292.2,1316.7 309.9,1312.4 327.5,1305.7 345.1,1309.9 362.8,1303.2 380.4,1319.2 398.1,1287.2 415.7,1310.8 433.3,1309.1 451.0,1319.2 468.6,1317.5 486.2,1319.2 503.9,1315.8 521.5,1305.7 539.1,1319.2 556.8,1319.2 574.4,1311.6 592.0,1315.8 609.7,1319.2 627.3,1304.0 645.0,1319.2 662.6,1319.2 680.2,1315.0 697.9,1313.3 715.5,1319.2 733.1,1293.9 750.8,1319.2 768.4,1312.4 786.0,1309.1 803.7,1315.0 821.3,1298.1 839.0,1309.1 856.6,1319.2 874.2,1319.2 891.9,1307.4 909.5,1311.6 927.1,1319.2 944.8,1313.3 962.4,1319.2 980.0,1296.4 997.7,1307.4 1015.3,1294.8 1032.9,1317.0 1050.6,1320.0 1068.2,1314.0 1085.9,1299.9 1103.5,1320.0 1121.1,1315.0 1138.8,1320.0 1156.4,1302.9 1174.0,1301.9 1191.7,1311.0 1209.3,1311.0 1226.9,1317.0 1244.6,1319.1 1262.2,1320.0 1279.9,1303.9 1297.5,1305.9 1315.1,1273.6 1332.8,1271.3 1350.4,1276.0 1368.0,1254.8 1385.7,1272.5 1403.3,1310.2 1420.9,1319.6 1438.6,1277.2 1456.2,1297.2 1473.8,1311.4 1491.5,1287.8 1509.1,1292.5 1526.8,1319.6 1544.4,1319.6 1562.0,1312.5 1579.7,1312.5 1597.3,1271.3 1614.9,1291.3 1632.6,1234.7 1650.2,1286.6 1667.8,1304.3 1685.5,1277.2 1703.1,1273.6 1720.8,1297.2 1738.4,1310.2 1756.0,1306.7 1773.7,1306.7 1791.3,1284.2 1808.9,1287.8 1826.6,1319.6 1844.2,1312.5 1861.8,1268.9 1879.5,1270.1 1897.1,1266.6 1914.7,1297.2 1932.4,1291.3 1950.0,1289.0 1967.7,1319.6 1985.3,1301.9 2002.9,1310.2 2020.6,1305.5 2038.2,1294.9 2055.8,1314.9 2073.5,1287.8 2091.1,1298.4 2108.7,1306.7 2126.4,1272.5 2144.0,1319.6 2161.7,1293.7 2179.3,1312.5 2196.9,1268.9 2214.6,1304.3 2232.2,1306.7 2249.8,1294.9 2267.5,1285.4 2285.1,1292.5 2302.7,1290.1 2320.4,1306.7 2338.0,1234.7 2355.6,1266.6 2373.3,1285.4 2390.9,1291.3 2408.6,1298.4 2426.2,1311.4 2443.8,1272.5 2461.5,1279.5 2479.1,1293.7 2496.7,1309.0 2514.4,1301.9 2532.0,1276.0 2549.6,1294.9 2567.3,1276.0 2584.9,1312.5 2602.6,1293.7 2620.2,1294.9 2637.8,1310.2 2655.5,1313.7" fill="none" stroke="#f7c19d" stroke-width="3.4" stroke-linejoin="round"/>
</g>
<circle cx="165.9" cy="888" r="12.2" fill="#774220"/>
<circle cx="259.9" cy="888" r="12.2" fill="#b3632d"/>
<circle cx="349.9" cy="888" r="12.2" fill="#ef843c"/>
<circle cx="440" cy="888" r="12.2" fill="#f3a36d"/>
<circle cx="513.9" cy="888" r="12.2" fill="#f7c19d"/>
<path d="M109.7,882.9 L118,889.5 L109.7,896.2 Z" fill="#33b5e5"/>
<rect x="129.9" y="875.1" width="2.4" height="28.6" fill="#eeeeee"/>
<path d="M119,120 L111,127.2 L119,134.4 Z" fill="#f4faff"/>
<path d="M297,120.4 L289,127.3 L297,134.3 Z" fill="#f4faf0"/>
<path d="M2093.6,43.7 L2110,43.7 L2101.8,53.8 Z" fill="#aaaaaa"/>
<circle cx="1605.10" cy="210.60" r="11.20" fill="#eee"/><rect x="1603.25" y="202.10" width="3.51" height="2.73" fill="#1f1f1f"/><path d="M1601.20,207.24 L1606.76,207.24 L1606.76,215.18 L1608.78,215.18 L1608.78,217.60 L1601.20,217.60 L1601.20,215.18 L1603.25,215.18 L1603.25,209.50 L1601.20,209.50 Z" fill="#1f1f1f"/>
<path d="M1661.81,202.65 L1662.65,202.36 L1662.70,199.56 L1667.50,199.56 L1667.55,202.36 L1668.39,202.65 L1669.20,203.04 L1671.21,201.10 L1674.60,204.49 L1672.66,206.50 L1673.05,207.31 L1673.34,208.15 L1676.14,208.20 L1676.14,213.00 L1673.34,213.05 L1673.05,213.89 L1672.66,214.70 L1674.60,216.71 L1671.21,220.10 L1669.20,218.16 L1668.39,218.55 L1667.55,218.84 L1667.50,221.64 L1662.70,221.64 L1662.65,218.84 L1661.81,218.55 L1661.00,218.16 L1658.99,220.10 L1655.60,216.71 L1657.54,214.70 L1657.15,213.89 L1656.86,213.05 L1654.06,213.00 L1654.06,208.20 L1656.86,208.15 L1657.15,207.31 L1657.54,206.50 L1655.60,204.49 L1658.99,201.10 L1661.00,203.04 Z M1661.45,210.60 a3.65,3.65 0 1,0 7.30,0 a3.65,3.65 0 1,0 -7.30,0 Z" fill="#eee" fill-rule="evenodd"/>
<path d="M1724.90,197.45 L1730.00,203.36 L1726.63,203.36 L1726.63,209.07 L1732.34,209.07 L1732.34,205.70 L1738.25,210.80 L1732.34,215.90 L1732.34,212.53 L1726.63,212.53 L1726.63,218.24 L1730.00,218.24 L1724.90,224.15 L1719.80,218.24 L1723.17,218.24 L1723.17,212.53 L1717.46,212.53 L1717.46,215.90 L1711.55,210.80 L1717.46,205.70 L1717.46,209.07 L1723.17,209.07 L1723.17,203.36 L1719.80,203.36 Z" fill="#eee"/>
<path d="M1778.20,205.50 L1790.20,217.50 M1790.20,205.50 L1778.20,217.50" stroke="#eee" stroke-width="5.60" stroke-linecap="round"/>
<circle cx="2507.10" cy="210.60" r="11.20" fill="#eee"/><rect x="2505.25" y="202.10" width="3.51" height="2.73" fill="#1f1f1f"/><path d="M2503.20,207.24 L2508.76,207.24 L2508.76,215.18 L2510.78,215.18 L2510.78,217.60 L2503.20,217.60 L2503.20,215.18 L2505.25,215.18 L2505.25,209.50 L2503.20,209.50 Z" fill="#1f1f1f"/>
<path d="M2563.81,202.65 L2564.65,202.36 L2564.70,199.56 L2569.50,199.56 L2569.55,202.36 L2570.39,202.65 L2571.20,203.04 L2573.21,201.10 L2576.60,204.49 L2574.66,206.50 L2575.05,207.31 L2575.34,208.15 L2578.14,208.20 L2578.14,213.00 L2575.34,213.05 L2575.05,213.89 L2574.66,214.70 L2576.60,216.71 L2573.21,220.10 L2571.20,218.16 L2570.39,218.55 L2569.55,218.84 L2569.50,221.64 L2564.70,221.64 L2564.65,218.84 L2563.81,218.55 L2563.00,218.16 L2560.99,220.10 L2557.60,216.71 L2559.54,214.70 L2559.15,213.89 L2558.86,213.05 L2556.06,213.00 L2556.06,208.20 L2558.86,208.15 L2559.15,207.31 L2559.54,206.50 L2557.60,204.49 L2560.99,201.10 L2563.00,203.04 Z M2563.45,210.60 a3.65,3.65 0 1,0 7.30,0 a3.65,3.65 0 1,0 -7.30,0 Z" fill="#eee" fill-rule="evenodd"/>
<path d="M2626.90,197.45 L2632.00,203.36 L2628.63,203.36 L2628.63,209.07 L2634.34,209.07 L2634.34,205.70 L2640.25,210.80 L2634.34,215.90 L2634.34,212.53 L2628.63,212.53 L2628.63,218.24 L2632.00,218.24 L2626.90,224.15 L2621.80,218.24 L2625.17,218.24 L2625.17,212.53 L2619.46,212.53 L2619.46,215.90 L2613.55,210.80 L2619.46,205.70 L2619.46,209.07 L2625.17,209.07 L2625.17,203.36 L2621.80,203.36 Z" fill="#eee"/>
<path d="M2680.20,205.50 L2692.20,217.50 M2692.20,205.50 L2680.20,217.50" stroke="#eee" stroke-width="5.60" stroke-linecap="round"/>
<circle cx="2509.10" cy="828.60" r="11.20" fill="#eee"/><rect x="2507.25" y="820.10" width="3.51" height="2.73" fill="#1f1f1f"/><path d="M2505.20,825.24 L2510.76,825.24 L2510.76,833.18 L2512.78,833.18 L2512.78,835.60 L2505.20,835.60 L2505.20,833.18 L2507.25,833.18 L2507.25,827.50 L2505.20,827.50 Z" fill="#1f1f1f"/>
<path d="M2565.81,820.65 L2566.65,820.36 L2566.70,817.56 L2571.50,817.56 L2571.55,820.36 L2572.39,820.65 L2573.20,821.04 L2575.21,819.10 L2578.60,822.49 L2576.66,824.50 L2577.05,825.31 L2577.34,826.15 L2580.14,826.20 L2580.14,831.00 L2577.34,831.05 L2577.05,831.89 L2576.66,832.70 L2578.60,834.71 L2575.21,838.10 L2573.20,836.16 L2572.39,836.55 L2571.55,836.84 L2571.50,839.64 L2566.70,839.64 L2566.65,836.84 L2565.81,836.55 L2565.00,836.16 L2562.99,838.10 L2559.60,834.71 L2561.54,832.70 L2561.15,831.89 L2560.86,831.05 L2558.06,831.00 L2558.06,826.20 L2560.86,826.15 L2561.15,825.31 L2561.54,824.50 L2559.60,822.49 L2562.99,819.10 L2565.00,821.04 Z M2565.45,828.60 a3.65,3.65 0 1,0 7.30,0 a3.65,3.65 0 1,0 -7.30,0 Z" fill="#eee" fill-rule="evenodd"/>
<path d="M2628.90,815.45 L2634.00,821.36 L2630.63,821.36 L2630.63,827.07 L2636.34,827.07 L2636.34,823.70 L2642.25,828.80 L2636.34,833.90 L2636.34,830.53 L2630.63,830.53 L2630.63,836.24 L2634.00,836.24 L2628.90,842.15 L2623.80,836.24 L2627.17,836.24 L2627.17,830.53 L2621.46,830.53 L2621.46,833.90 L2615.55,828.80 L2621.46,823.70 L2621.46,827.07 L2627.17,827.07 L2627.17,821.36 L2623.80,821.36 Z" fill="#eee"/>
<path d="M2682.20,823.50 L2694.20,835.50 M2694.20,823.50 L2682.20,835.50" stroke="#eee" stroke-width="5.60" stroke-linecap="round"/>
<circle cx="2509.10" cy="1488.60" r="11.20" fill="#eee"/><rect x="2507.25" y="1480.10" width="3.51" height="2.73" fill="#1f1f1f"/><path d="M2505.20,1485.24 L2510.76,1485.24 L2510.76,1493.18 L2512.78,1493.18 L2512.78,1495.60 L2505.20,1495.60 L2505.20,1493.18 L2507.25,1493.18 L2507.25,1487.50 L2505.20,1487.50 Z" fill="#1f1f1f"/>
<path d="M2565.81,1480.65 L2566.65,1480.36 L2566.70,1477.56 L2571.50,1477.56 L2571.55,1480.36 L2572.39,1480.65 L2573.20,1481.04 L2575.21,1479.10 L2578.60,1482.49 L2576.66,1484.50 L2577.05,1485.31 L2577.34,1486.15 L2580.14,1486.20 L2580.14,1491.00 L2577.34,1491.05 L2577.05,1491.89 L2576.66,1492.70 L2578.60,1494.71 L2575.21,1498.10 L2573.20,1496.16 L2572.39,1496.55 L2571.55,1496.84 L2571.50,1499.64 L2566.70,1499.64 L2566.65,1496.84 L2565.81,1496.55 L2565.00,1496.16 L2562.99,1498.10 L2559.60,1494.71 L2561.54,1492.70 L2561.15,1491.89 L2560.86,1491.05 L2558.06,1491.00 L2558.06,1486.20 L2560.86,1486.15 L2561.15,1485.31 L2561.54,1484.50 L2559.60,1482.49 L2562.99,1479.10 L2565.00,1481.04 Z M2565.45,1488.60 a3.65,3.65 0 1,0 7.30,0 a3.65,3.65 0 1,0 -7.30,0 Z" fill="#eee" fill-rule="evenodd"/>
<path d="M2628.90,1475.45 L2634.00,1481.36 L2630.63,1481.36 L2630.63,1487.07 L2636.34,1487.07 L2636.34,1483.70 L2642.25,1488.80 L2636.34,1493.90 L2636.34,1490.53 L2630.63,1490.53 L2630.63,1496.24 L2634.00,1496.24 L2628.90,1502.15 L2623.80,1496.24 L2627.17,1496.24 L2627.17,1490.53 L2621.46,1490.53 L2621.46,1493.90 L2615.55,1488.80 L2621.46,1483.70 L2621.46,1487.07 L2627.17,1487.07 L2627.17,1481.36 L2623.80,1481.36 Z" fill="#eee"/>
<path d="M2682.20,1483.50 L2694.20,1495.50 M2694.20,1483.50 L2682.20,1495.50" stroke="#eee" stroke-width="5.60" stroke-linecap="round"/>
<path d="M2660.48,39.50 L2661.38,39.18 L2661.43,36.18 L2666.57,36.18 L2666.62,39.18 L2667.52,39.50 L2668.38,39.91 L2670.55,37.82 L2674.18,41.45 L2672.09,43.62 L2672.50,44.48 L2672.82,45.38 L2675.82,45.43 L2675.82,50.57 L2672.82,50.62 L2672.50,51.52 L2672.09,52.38 L2674.18,54.55 L2670.55,58.18 L2668.38,56.09 L2667.52,56.50 L2666.62,56.82 L2666.57,59.82 L2661.43,59.82 L2661.38,56.82 L2660.48,56.50 L2659.62,56.09 L2657.45,58.18 L2653.82,54.55 L2655.91,52.38 L2655.50,51.52 L2655.18,50.62 L2652.18,50.57 L2652.18,45.43 L2655.18,45.38 L2655.50,44.48 L2655.91,43.62 L2653.82,41.45 L2657.45,37.82 L2659.62,39.91 Z M2660.10,48.00 a3.90,3.90 0 1,0 7.80,0 a3.90,3.90 0 1,0 -7.80,0 Z" fill="#b2b4b2" fill-rule="evenodd"/>
<path d="M2180.4,50.1 A9.8,9.8 0 0 1 2197.5,45.8" stroke="#b2b4b2" stroke-width="4.2" fill="none"/>
<path d="M2202.2,40.7 L2202.2,50.2 L2192.4,50.2 Z" fill="#b2b4b2"/>
<path d="M2199.6,54.1 A9.8,9.8 0 0 1 2182.5,58.4" stroke="#b2b4b2" stroke-width="4.2" fill="none"/>
<path d="M2177.8,63.2 L2177.8,54.0 L2187.6,54.0 Z" fill="#b2b4b2"/>
<path d="M2276.0,48.0 L2287.1,38.6 L2298.3,48.0" stroke="#b2b4b2" stroke-width="3.4" fill="none" stroke-linecap="round"/>
<rect x="2292.6" y="38.2" width="3.4" height="6.5" fill="#b2b4b2"/>
<path d="M2278.2,58 L2278.2,49.6 L2287.1,42.2 L2296.0,49.6 L2296.0,58 L2289.3,58 L2289.3,52.3 L2285.0,52.3 L2285.0,58 Z" fill="#b2b4b2"/>
<path d="M2368,54.5 L2368,39 Q2368,37.3 2369.7,37.3 L2375.6,37.3 Q2376.8,37.3 2377.4,38.6 L2378,40.1 L2390,40.1 Q2391.6,40.1 2391.6,41.7 L2391.6,46.0 L2370.2,46.0 Z" fill="#b2b4b2"/>
<path d="M2371.4,48.3 L2397.4,48.3 L2388.2,57.2 Q2387.4,58 2386.2,58 L2369.2,58 Q2368.2,58 2368.8,57.1 Z" fill="#b2b4b2"/>
<path d="M2466.9,36.7 L2483.0,36.7 L2489.2,43.0 L2489.2,59.2 L2466.9,59.2 Z" stroke="#b2b4b2" stroke-width="2.0" fill="none" stroke-linejoin="round"/>
<path d="M2469.8,37.2 L2482.3,37.2 L2482.3,45.8 L2469.8,45.8 Z M2476.0,37.9 L2476.0,43.8 L2479.8,43.8 L2479.8,37.9 Z" fill="#b2b4b2" fill-rule="evenodd"/>
<rect x="2471.3" y="51.3" width="13.4" height="7.9" stroke="#b2b4b2" stroke-width="2.0" fill="none"/>
<path d="M2567.5,36.9 L2563.5,36.9 Q2559,36.9 2559,41.4 L2559,52.7 Q2559,57.2 2563.5,57.2 L2574.5,57.2 Q2579,57.2 2579,52.7 L2579,49.0" stroke="#b2b4b2" stroke-width="2.0" fill="none"/>
<path d="M2565.2,53.6 Q2563.5,44.2 2576.5,43.6 L2576.5,47.8 L2584.2,40.8 L2576.5,33.9 L2576.5,38.0 Q2561.5,38.6 2565.2,53.6 Z" fill="#b2b4b2"/>
<defs><linearGradient id="lgf" x1="0" y1="0" x2="0" y2="1"><stop offset="0" stop-color="#1f1f1f" stop-opacity="0"/><stop offset="1" stop-color="#1f1f1f" stop-opacity="0.9"/></linearGradient></defs>
<rect x="39.9" y="51.9" width="15.6" height="15.7" fill="#80b56e"/>
<ellipse cx="47.7" cy="67.8" rx="6.6" ry="8.4" fill="#1f1f1f"/>
<rect x="57.1" y="44.2" width="15.3" height="23.4" fill="#e6b53a"/>
<ellipse cx="64.8" cy="67.8" rx="6.6" ry="8.4" fill="#1f1f1f"/>
<rect x="74.2" y="35.8" width="16.0" height="31.8" fill="#6fd0e0"/>
<ellipse cx="82.2" cy="67.8" rx="6.6" ry="8.4" fill="#1f1f1f"/>
<rect x="39" y="62" width="52" height="6" fill="url(#lgf)"/>
<path d="M2350.9,1548.9 L2368,1548.9 M2359.4,1539.6 L2368.1,1548.9 L2359.4,1558.2" stroke="#eeeeee" stroke-width="6" stroke-linecap="round" stroke-linejoin="round" fill="none"/>
<circle cx="157.9" cy="1548" r="12" fill="#eeeeee"/>
<path d="M160.5,1541.5 L154,1548 L160.5,1554.5" stroke="#1f1f1f" stroke-width="3.6" fill="none" stroke-linecap="round" stroke-linejoin="round"/>
</svg>
<div class="t" style="position:absolute;left:101.89px;top:26.03px;font-size:42.8px;font-weight:400;color:#eeeeee;transform:scaleX(0.9350);">Panel Groups</div>
<div class="t" style="position:absolute;left:1693.65px;top:33.80px;font-size:29px;font-weight:400;color:#aaaaaa;transform:scaleX(0.9471);">a day ago to a few seconds ago</div>
<div class="t" style="position:absolute;left:19.32px;top:113.83px;font-size:26px;font-weight:400;color:#f4faff;transform:scaleX(0.8767);">QUERY</div>
<div class="t" style="position:absolute;left:161.28px;top:114.13px;font-size:26px;font-weight:400;color:#f4faf0;transform:scaleX(0.8615);">FILTERING</div>
<div class="t" style="position:absolute;left:50.63px;top:196.64px;font-size:28px;font-weight:700;color:#eeeeee;transform:scaleX(0.9361);-webkit-text-stroke:0.55px #eeeeee">LOAD TIME BY REQUEST</div>
<div class="t" style="position:absolute;left:1856.07px;top:196.74px;font-size:28px;font-weight:700;color:#eeeeee;transform:scaleX(0.9626);-webkit-text-stroke:0.55px #eeeeee">NGINX VS APACHE</div>
<div class="t" style="position:absolute;left:52.30px;top:814.44px;font-size:28px;font-weight:700;color:#eeeeee;transform:scaleX(0.9323);-webkit-text-stroke:0.55px #eeeeee">TOTAL BYTES PER SECOND BY EXTENSION</div>
<div class="t" style="position:absolute;left:50.67px;top:1474.74px;font-size:28px;font-weight:700;color:#eeeeee;transform:scaleX(0.9262);-webkit-text-stroke:0.55px #eeeeee">ALL EVENTS</div>
<div class="t" style="position:absolute;left:51.33px;top:256.43px;font-size:26px;font-weight:400;color:#eeeeee;transform:scaleX(0.9807);">1000000</div>
<div class="t" style="position:absolute;left:66.05px;top:348.43px;font-size:26px;font-weight:400;color:#eeeeee;transform:scaleX(0.9692);">800000</div>
<div class="t" style="position:absolute;left:66.05px;top:440.43px;font-size:26px;font-weight:400;color:#eeeeee;transform:scaleX(0.9692);">600000</div>
<div class="t" style="position:absolute;left:66.05px;top:532.43px;font-size:26px;font-weight:400;color:#eeeeee;transform:scaleX(0.9692);">400000</div>
<div class="t" style="position:absolute;left:66.05px;top:624.43px;font-size:26px;font-weight:400;color:#eeeeee;transform:scaleX(0.9692);">200000</div>
<div class="t" style="position:absolute;left:134.61px;top:716.43px;font-size:26px;font-weight:400;color:#eeeeee;transform:scaleX(1.0562);">0</div>
<div class="t" style="position:absolute;left:1186.70px;top:660.20px;font-size:30.3px;font-weight:400;color:#cccccc;transform:scaleX(0.9495);">larvatus.html (306311)</div>
<div class="t" style="position:absolute;left:2106.80px;top:385.30px;font-size:24.5px;font-weight:400;color:#ffffff;transform:scaleX(0.9000);">nginx</div>
<div class="t" style="position:absolute;left:2110.14px;top:425.90px;font-size:24.5px;font-weight:400;color:#ffffff;transform:scaleX(0.9128);">33%</div>
<div class="t" style="position:absolute;left:2385.34px;top:549.40px;font-size:24.5px;font-weight:400;color:#ffffff;transform:scaleX(0.9115);">apache</div>
<div class="t" style="position:absolute;left:2399.29px;top:589.80px;font-size:24.5px;font-weight:400;color:#ffffff;transform:scaleX(0.9064);">67%</div>
<div class="t" style="position:absolute;left:51.30px;top:875.83px;font-size:26px;font-weight:400;color:#33b5e5;transform:scaleX(0.8607);">View</div>
<div class="t" style="position:absolute;left:188.35px;top:875.83px;font-size:26px;font-weight:400;color:#eeeeee;transform:scaleX(0.9733);">html</div>
<div class="t" style="position:absolute;left:282.76px;top:875.83px;font-size:26px;font-weight:400;color:#eeeeee;transform:scaleX(0.9675);">php</div>
<div class="t" style="position:absolute;left:372.61px;top:875.83px;font-size:26px;font-weight:400;color:#eeeeee;transform:scaleX(0.9475);">png</div>
<div class="t" style="position:absolute;left:462.56px;top:875.83px;font-size:26px;font-weight:400;color:#eeeeee;transform:scaleX(0.9370);">gif</div>
<div class="t" style="position:absolute;left:537.04px;top:875.83px;font-size:26px;font-weight:400;color:#eeeeee;transform:scaleX(0.9622);">css</div>
<div class="t" style="position:absolute;left:590.51px;top:875.83px;font-size:26px;font-weight:400;color:#eeeeee;transform:scaleX(0.8968);"><b>bytes</b> total per <b>1s</b> | (<b>6521</b> hits)</div>
<div class="t" style="position:absolute;left:50.72px;top:920.03px;font-size:26px;font-weight:400;color:#eeeeee;transform:scaleX(0.9773);">384 B</div>
<div class="t" style="position:absolute;left:50.72px;top:1048.03px;font-size:26px;font-weight:400;color:#eeeeee;transform:scaleX(0.9773);">256 B</div>
<div class="t" style="position:absolute;left:49.72px;top:1176.03px;font-size:26px;font-weight:400;color:#eeeeee;transform:scaleX(0.9923);">128 B</div>
<div class="t" style="position:absolute;left:75.13px;top:1305.03px;font-size:26px;font-weight:400;color:#eeeeee;transform:scaleX(1.0808);">0 B</div>
<div class="t" style="position:absolute;left:242.88px;top:1336.13px;font-size:26px;font-weight:400;color:#eeeeee;transform:scaleX(0.9613);">12:00</div>
<div class="t" style="position:absolute;left:242.34px;top:1376.23px;font-size:26px;font-weight:400;color:#eeeeee;transform:scaleX(0.9631);">01-24</div>
<div class="t" style="position:absolute;left:454.51px;top:1336.13px;font-size:26px;font-weight:400;color:#eeeeee;transform:scaleX(0.9613);">14:00</div>
<div class="t" style="position:absolute;left:453.97px;top:1376.23px;font-size:26px;font-weight:400;color:#eeeeee;transform:scaleX(0.9631);">01-24</div>
<div class="t" style="position:absolute;left:666.14px;top:1336.13px;font-size:26px;font-weight:400;color:#eeeeee;transform:scaleX(0.9613);">16:00</div>
<div class="t" style="position:absolute;left:665.60px;top:1376.23px;font-size:26px;font-weight:400;color:#eeeeee;transform:scaleX(0.9631);">01-24</div>
<div class="t" style="position:absolute;left:877.77px;top:1336.13px;font-size:26px;font-weight:400;color:#eeeeee;transform:scaleX(0.9613);">18:00</div>
<div class="t" style="position:absolute;left:877.23px;top:1376.23px;font-size:26px;font-weight:400;color:#eeeeee;transform:scaleX(0.9631);">01-24</div>
<div class="t" style="position:absolute;left:1090.37px;top:1336.13px;font-size:26px;font-weight:400;color:#eeeeee;transform:scaleX(0.9460);">20:00</div>
<div class="t" style="position:absolute;left:1088.86px;top:1376.23px;font-size:26px;font-weight:400;color:#eeeeee;transform:scaleX(0.9631);">01-24</div>
<div class="t" style="position:absolute;left:1302.00px;top:1336.13px;font-size:26px;font-weight:400;color:#eeeeee;transform:scaleX(0.9460);">22:00</div>
<div class="t" style="position:absolute;left:1300.49px;top:1376.23px;font-size:26px;font-weight:400;color:#eeeeee;transform:scaleX(0.9631);">01-24</div>
<div class="t" style="position:absolute;left:1513.63px;top:1336.13px;font-size:26px;font-weight:400;color:#eeeeee;transform:scaleX(0.9460);">00:00</div>
<div class="t" style="position:absolute;left:1512.10px;top:1376.23px;font-size:26px;font-weight:400;color:#eeeeee;transform:scaleX(0.9781);">01-25</div>
<div class="t" style="position:absolute;left:1725.26px;top:1336.13px;font-size:26px;font-weight:400;color:#eeeeee;transform:scaleX(0.9460);">02:00</div>
<div class="t" style="position:absolute;left:1723.73px;top:1376.23px;font-size:26px;font-weight:400;color:#eeeeee;transform:scaleX(0.9781);">01-25</div>
<div class="t" style="position:absolute;left:1936.89px;top:1336.13px;font-size:26px;font-weight:400;color:#eeeeee;transform:scaleX(0.9460);">04:00</div>
<div class="t" style="position:absolute;left:1935.36px;top:1376.23px;font-size:26px;font-weight:400;color:#eeeeee;transform:scaleX(0.9781);">01-25</div>
<div class="t" style="position:absolute;left:2148.52px;top:1336.13px;font-size:26px;font-weight:400;color:#eeeeee;transform:scaleX(0.9460);">06:00</div>
<div class="t" style="position:absolute;left:2146.99px;top:1376.23px;font-size:26px;font-weight:400;color:#eeeeee;transform:scaleX(0.9781);">01-25</div>
<div class="t" style="position:absolute;left:2360.15px;top:1336.13px;font-size:26px;font-weight:400;color:#eeeeee;transform:scaleX(0.9460);">08:00</div>
<div class="t" style="position:absolute;left:2358.62px;top:1376.23px;font-size:26px;font-weight:400;color:#eeeeee;transform:scaleX(0.9781);">01-25</div>
<div class="t" style="position:absolute;left:2570.81px;top:1336.13px;font-size:26px;font-weight:400;color:#eeeeee;transform:scaleX(0.9613);">10:00</div>
<div class="t" style="position:absolute;left:2570.25px;top:1376.23px;font-size:26px;font-weight:400;color:#eeeeee;transform:scaleX(0.9781);">01-25</div>
<div class="t" style="position:absolute;left:50.50px;top:1532.44px;font-size:30.6px;font-weight:700;color:#eeeeee;transform:scaleX(0.9482);-webkit-text-stroke:0.55px #eeeeee">Fields</div>
<div class="t" style="position:absolute;left:1452.77px;top:1532.53px;font-size:30.5px;font-weight:400;color:#eeeeee;transform:scaleX(0.9311);"><b>0</b> to <b>100</b> <span style="font-size:82%">of 500 available for paging</span></div>
<div class="t" style="position:absolute;left:52.40px;top:1597.83px;font-size:21.5px;font-weight:400;color:#eeeeee;transform:scaleX(0.9304);"><span style="color:#33b5e5">All (66)</span> / <b style="color:#33b5e5">Current (24)</b></div>
<div class="t" style="position:absolute;left:683.30px;top:1601.53px;font-size:26px;font-weight:700;color:#eeeeee;transform:scaleX(0.9021);">source (select columns from the list to the left)</div>
</body></html>
